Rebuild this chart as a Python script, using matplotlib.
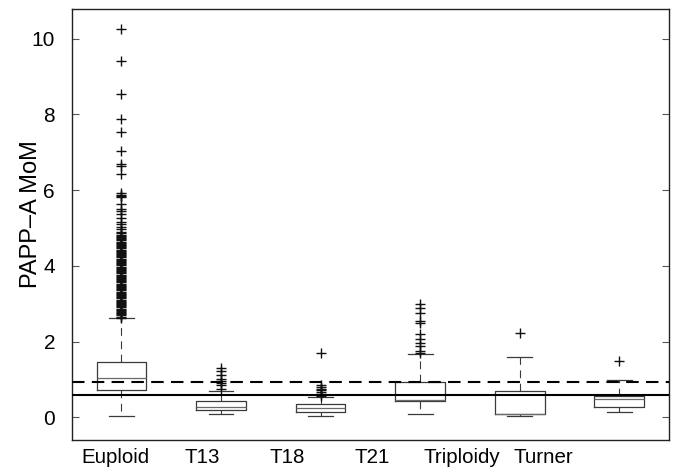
import matplotlib
matplotlib.use("Agg")
from matplotlib import pyplot as plt

plt.rcParams['font.family'] = ['Liberation Sans', 'DejaVu Sans']

# group labels as printed under the axis, and their x positions (data units)
labels = ['Euploid', 'T13', 'T18', 'T21', 'Triploidy', 'Turner']
label_pos = [0.935, 1.81, 2.66, 3.52, 4.42, 5.24]

# box statistics (six boxes)
q1 = [0.72, 0.19, 0.15, 0.43, 0.09, 0.28]
med = [1.04, 0.26, 0.24, 0.45, 0.10, 0.47]
q3 = [1.47, 0.43, 0.34, 0.92, 0.69, 0.56]
whislo = [0.03, 0.08, 0.03, 0.09, 0.03, 0.15]
whishi = [2.61, 0.70, 0.54, 1.66, 1.58, 0.98]

euploid_out = [10.25, 9.41, 8.54, 7.87, 7.52, 7.03, 6.70, 6.64, 6.42,
               5.91, 5.88, 5.85, 5.81, 5.62, 5.50, 5.45, 5.36, 5.26, 5.16,
               5.10, 5.02, 4.96, 4.90, 4.86, 4.82,
               4.79, 4.76, 4.73, 4.70, 4.67, 4.64, 4.61, 4.58, 4.55, 4.52,
               4.49, 4.46, 4.43, 4.40, 4.37, 4.34, 4.31, 4.28, 4.25, 4.22,
               4.19, 4.16, 4.13, 4.10, 4.07, 4.04, 4.01, 3.98, 3.95, 3.92,
               3.89, 3.86, 3.83, 3.80, 3.77, 3.74, 3.71, 3.68, 3.65, 3.62,
               3.59, 3.56, 3.53, 3.50, 3.47, 3.44, 3.41, 3.38, 3.35, 3.32,
               3.29, 3.26, 3.23, 3.20, 3.17, 3.14, 3.11, 3.08, 3.05, 3.02,
               2.99, 2.96, 2.93, 2.90, 2.87, 2.84, 2.81, 2.78, 2.75, 2.72,
               2.69, 2.66, 2.63]
t13_out = [1.30, 1.22, 1.12, 1.02, 0.96, 0.90, 0.85, 0.76]
t18_out = [1.69, 0.86, 0.81, 0.76, 0.71, 0.66, 0.61, 0.57]
t21_out = [2.99, 2.88, 2.76, 2.55, 2.48, 2.19, 2.08, 1.95, 1.88, 1.76, 1.70]
turner_out = [2.22]
last_out = [1.48]
fliers = [euploid_out, t13_out, t18_out, t21_out, turner_out, last_out]

upper_ref = 0.92   # dashed line
lower_ref = 0.60   # solid line

stats = []
for i in range(6):
    stats.append({'med': med[i], 'q1': q1[i], 'q3': q3[i],
                  'whislo': whislo[i], 'whishi': whishi[i],
                  'fliers': fliers[i]})

fig = plt.figure(figsize=(6.74, 4.69), dpi=100)
ax = fig.add_axes([0.1064, 0.0618, 0.8862, 0.9182])

edge = '#3a3a3a'
ax.bxp(stats, positions=range(1, 7), widths=0.5, capwidths=0.25,
       boxprops=dict(color=edge, lw=0.9),
       medianprops=dict(color='#6a6a6a', lw=0.9),
       whiskerprops=dict(color=edge, lw=0.8, linestyle=(0, (7, 5))),
       capprops=dict(color=edge, lw=0.9),
       flierprops=dict(marker='+', markeredgecolor='#111111',
                       markersize=7, markeredgewidth=1.0, linestyle='none'))

ax.axhline(upper_ref, color='black', lw=1.5, linestyle=(0, (6, 3.5)), zorder=5)
ax.axhline(lower_ref, color='black', lw=1.5, zorder=5)

ax.set_xlim(0.5, 6.5)
ax.set_ylim(-0.60, 10.77)
ax.set_yticks([0, 2, 4, 6, 8, 10])
ax.set_xticks(label_pos)
ax.set_xticklabels(labels)
ax.tick_params(axis='x', length=0, pad=6, labelsize=14.8)
ax.tick_params(axis='y', direction='in', length=5, width=0.8, right=True,
               pad=12, labelsize=15, color='#555555')
ax.set_ylabel('PAPP\u2013A MoM', fontsize=17)
ax.yaxis.set_label_coords(-0.05, 0.525)
for s in ax.spines.values():
    s.set_linewidth(1.0)
    s.set_color('#222222')

fig.savefig('out.png', dpi=100)
